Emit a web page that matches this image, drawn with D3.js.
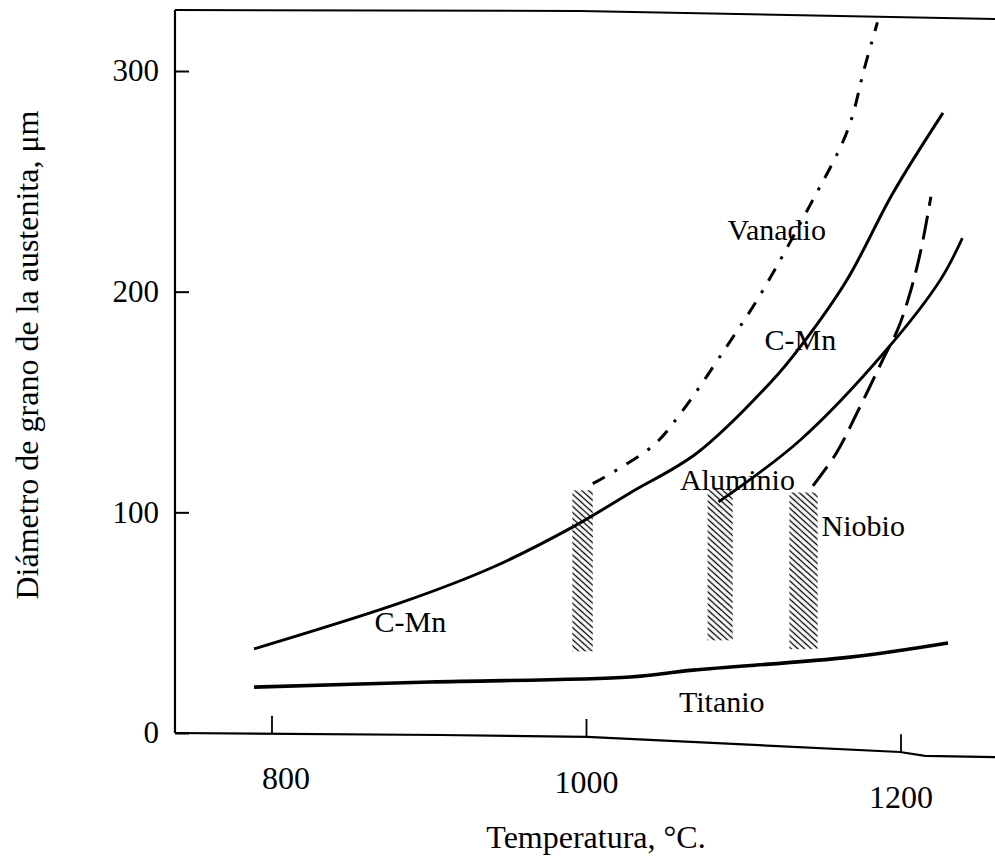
<!DOCTYPE html>
<html>
<head>
<meta charset="utf-8">
<script src="https://cdn.jsdelivr.net/npm/d3@7"></script>
<style>
  html, body { margin: 0; padding: 0; background: #fff; }
  svg { display: block; }
  text { font-family: "Liberation Serif", "Times New Roman", serif; fill: #000; }
</style>
</head>
<body>
<svg id="chart" width="995" height="858"></svg>
<script>
// Austenite grain size vs. reheating temperature, by microalloying element.
const xTicks = [800, 1000, 1200];
const yTicks = [0, 100, 200, 300];

// C-Mn (plain carbon-manganese steel)
const cmnT = [788.6, 883.3, 940, 991.4, 1027.7, 1070.3, 1116.7, 1135.8, 1165.6, 1194.9, 1226.7];
const cmnV = [38.1, 59.4, 75, 93.4, 108.8, 126.9, 158.6, 174.9, 205.3, 244.7, 281];

// Vanadio
const vanT = [1004, 1042, 1060, 1089, 1110, 1142, 1166, 1177, 1185];
const vanV = [113, 130, 145, 175, 198, 239, 273, 302, 322];

// Aluminio
const aluT = [1084, 1136, 1189, 1225, 1239];
const aluV = [104.7, 132.8, 172.2, 205.3, 224.3];

// Niobio
const nbT = [1144, 1159, 1172, 1189, 1198, 1206, 1213, 1219];
const nbV = [112, 127, 145, 170, 183, 200, 220, 243];

// Titanio
const tiT = [788.6, 900.5, 1027.7, 1067.7, 1167.6, 1229.9];
const tiV = [20.8, 23.1, 25.4, 28.5, 34.4, 40.8];

// Grain-coarsening temperature bands (hatched): [T from, T to] and [size from, size to]
const bandT = [[991, 1004], [1077, 1093], [1129, 1147]];
const bandV = [[37, 110], [42, 110], [38, 109]];

// Curve labels
const labelText = ["Vanadio", "C-Mn", "Aluminio", "Niobio", "C-Mn", "Titanio"];
const labelT = [1121, 1136, 1096, 1176, 888, 1086];
const labelV = [223.4, 173.6, 110.1, 89.5, 45.8, 9.5];

// Plot frame (top edge and bottom baseline of the drawing), in data units
const frameTopT = [738.3, 995.9, 1259.8];
const frameTopV = [327.6, 327.2, 323.6];
const baseT = [738.3, 906.8, 1000.3, 1199.4, 1215.3, 1259.8];
const baseV = [0, -0.9, -1.8, -8.6, -10.4, -10.9];

const svg = d3.select("#chart");
const x = d3.scaleLinear().domain([800, 1200]).range([272, 901]);
const y = d3.scaleLinear().domain([0, 300]).range([733, 71]);

const zip = (a, b) => a.map((d, i) => [d, b[i]]);
const line = d3.line().x(d => x(d[0])).y(d => y(d[1])).curve(d3.curveCatmullRom.alpha(0.5));
const poly = d3.line().x(d => x(d[0])).y(d => y(d[1]));

// hatch pattern
const defs = svg.append("defs");
const pat = defs.append("pattern")
  .attr("id", "hatch")
  .attr("patternUnits", "userSpaceOnUse")
  .attr("width", 10).attr("height", 4.5)
  .attr("patternTransform", "rotate(42)");
pat.append("line")
  .attr("x1", 0).attr("x2", 10).attr("y1", 2.25).attr("y2", 2.25)
  .attr("stroke", "#000").attr("stroke-width", 1.3);

// frame: top edge, left axis line and bottom baseline
svg.append("path")
  .attr("d", poly(zip(frameTopT, frameTopV)))
  .attr("fill", "none").attr("stroke", "#000").attr("stroke-width", 2);
svg.append("line")
  .attr("x1", x(738.3)).attr("x2", x(738.3))
  .attr("y1", y(frameTopV[0])).attr("y2", y(0))
  .attr("stroke", "#000").attr("stroke-width", 2.2);
svg.append("path")
  .attr("d", poly(zip(baseT, baseV)))
  .attr("fill", "none").attr("stroke", "#000").attr("stroke-width", 2.2);

// y axis ticks and labels
const yAxis = d3.axisLeft(y).tickValues(yTicks).tickFormat(d3.format("d"))
  .tickSizeInner(-14).tickSizeOuter(0).tickPadding(16);
const gy = svg.append("g").attr("transform", `translate(${x(738.3)},0)`).call(yAxis);
gy.select(".domain").remove();
gy.selectAll(".tick line").attr("stroke", "#000").attr("stroke-width", 2);
gy.selectAll(".tick text")
  .style("font-family", '"Liberation Serif", serif').style("font-size", "31px").attr("fill", "#000");

// x axis ticks follow the drawn baseline
const baseAt = t => {
  for (let i = 0; i < baseT.length - 1; i++) {
    if (t >= baseT[i] && t <= baseT[i + 1]) {
      const f = (t - baseT[i]) / (baseT[i + 1] - baseT[i]);
      return baseV[i] + f * (baseV[i + 1] - baseV[i]);
    }
  }
  return 0;
};
const xAxis = d3.axisBottom(x).tickValues(xTicks).tickFormat(d3.format("d"))
  .tickSizeInner(-18).tickSizeOuter(0).tickPadding(33);
const gx = svg.append("g").call(xAxis);
gx.select(".domain").remove();
gx.selectAll(".tick").attr("transform", d => `translate(${x(d)},${y(baseAt(d))})`);
gx.selectAll(".tick line").attr("stroke", "#000").attr("stroke-width", 1.8);
gx.selectAll(".tick text")
  .style("font-family", '"Liberation Serif", serif').style("font-size", "32px").attr("fill", "#000")
  .attr("dx", d => d === 800 ? 14 : 0);

// hatched bands
svg.append("g").selectAll("rect").data(bandT).join("rect")
  .attr("x", d => x(d[0]))
  .attr("width", d => x(d[1]) - x(d[0]))
  .attr("y", (d, i) => y(bandV[i][1]))
  .attr("height", (d, i) => y(bandV[i][0]) - y(bandV[i][1]))
  .attr("fill", "url(#hatch)");

// curves
const curves = [
  { pts: zip(tiT, tiV), w: 3.6, dash: null },
  { pts: zip(cmnT, cmnV), w: 3, dash: null },
  { pts: zip(aluT, aluV), w: 2.8, dash: null },
  { pts: zip(vanT, vanV), w: 3, dash: "14,11,3,11" },
  { pts: zip(nbT, nbV), w: 3, dash: "24,10" }
];
svg.append("g").selectAll("path").data(curves).join("path")
  .attr("d", d => line(d.pts))
  .attr("fill", "none")
  .attr("stroke", "#000")
  .attr("stroke-width", d => d.w)
  .attr("stroke-linecap", "butt")
  .attr("stroke-dasharray", d => d.dash);

// curve labels
svg.append("g").selectAll("text").data(labelText).join("text")
  .attr("x", (d, i) => x(labelT[i]))
  .attr("y", (d, i) => y(labelV[i]))
  .attr("text-anchor", "middle")
  .style("font-size", "30px")
  .text(d => d);

// axis titles
svg.append("text")
  .attr("x", 596).attr("y", 848)
  .attr("text-anchor", "middle")
  .style("font-size", "32px")
  .text("Temperatura, °C.");
svg.append("text")
  .attr("transform", "translate(38,355) rotate(-90)")
  .attr("text-anchor", "middle")
  .style("font-size", "32px")
  .text("Diámetro de grano de la austenita,  μm");
</script>
</body>
</html>
